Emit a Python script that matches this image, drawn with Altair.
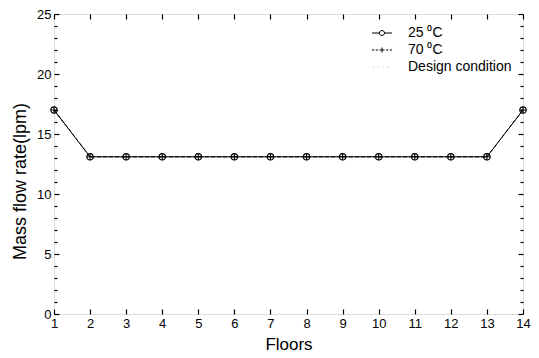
import altair as alt
import pandas as pd

# Mass flow rate per floor for the two supply temperatures and the design case
floors = list(range(1, 15))
mass_25 = [17.0, 13.1, 13.1, 13.1, 13.1, 13.1, 13.1, 13.1, 13.1, 13.1, 13.1, 13.1, 13.1, 17.0]
mass_70 = [17.0, 13.1, 13.1, 13.1, 13.1, 13.1, 13.1, 13.1, 13.1, 13.1, 13.1, 13.1, 13.1, 17.0]
mass_design = [17.0, 13.1, 13.1, 13.1, 13.1, 13.1, 13.1, 13.1, 13.1, 13.1, 13.1, 13.1, 13.1, 17.0]

series_names = ["25 \u2070C", "70 \u2070C", "Design condition"]
y_major = [0, 5, 10, 15, 20, 25]
y_minor = [v for v in range(0, 26) if v % 5 != 0]

frames = []
for name, vals in zip(series_names, [mass_25, mass_70, mass_design]):
    frames.append(pd.DataFrame({"floor": floors, "flow": vals, "series": name}))
df = pd.concat(frames, ignore_index=True)

FONT = "Liberation Sans"
W, H = 469, 300
x_scale = alt.Scale(domain=[1, 14], nice=False, zero=False)
y_scale = alt.Scale(domain=[0, 25], nice=False)


def inward(orient, size, values, **kw):
    """Axis whose ticks point into the plot: shift it inward by the tick length."""
    base = dict(orient=orient, values=values, tickSize=size, offset=-size,
                domain=False, grid=False, labels=False, title=None,
                tickColor="black", tickWidth=1.2)
    base.update(kw)
    return alt.Axis(**base)


def legend_spec():
    return alt.Legend(title=None, orient="none", legendX=321, legendY=12,
                      padding=0, labelFont=FONT, labelFontSize=14,
                      labelColor="black", labelOffset=19, rowPadding=3,
                      symbolStrokeWidth=1)


base = alt.Chart(df)
s25 = base.transform_filter(alt.datum.series == series_names[0])
s70 = base.transform_filter(alt.datum.series == series_names[1])
sdes = base.transform_filter(alt.datum.series == series_names[2])

x_main = alt.X("floor:Q", scale=x_scale, axis=inward(
    "bottom", 5, floors, labels=True, labelFont=FONT, labelFontSize=13,
    labelColor="black", labelPadding=3, labelFlush=False,
    title="Floors", titleFont=FONT, titleFontSize=17, titleFontWeight="normal",
    titleColor="black", titlePadding=6))
y_main = alt.Y("flow:Q", scale=y_scale, axis=inward(
    "left", 5, y_major, labels=True, labelFont=FONT, labelFontSize=13,
    labelColor="black", labelPadding=3, labelFlush=False,
    title="Mass flow rate(lpm)", titleFont=FONT, titleFontSize=18,
    titleFontWeight="normal", titleColor="black", titlePadding=7, titleY=167))

line25 = s25.mark_line(color="black", strokeWidth=1).encode(x=x_main, y=y_main)

pts25 = s25.mark_point(shape="circle", size=40, filled=False, color="black",
                       strokeWidth=1.1, opacity=1).encode(
    x=alt.X("floor:Q", scale=x_scale, axis=None),
    y=alt.Y("flow:Q", scale=y_scale, axis=inward("left", 3, y_minor)))

line70 = s70.mark_line(color="black", strokeWidth=1, strokeDash=[4, 2]).encode(
    x=alt.X("floor:Q", scale=x_scale, axis=inward("top", 5, floors)),
    y=alt.Y("flow:Q", scale=y_scale, axis=inward("right", 5, y_major)))

pts70 = s70.mark_point(shape="M-1,0L1,0M0,-1L0,1", size=49, filled=False,
                       color="black", strokeWidth=1.1, opacity=1).encode(
    x=alt.X("floor:Q", scale=x_scale, axis=None),
    y=alt.Y("flow:Q", scale=y_scale, axis=inward("right", 3, y_minor)))

line_des = sdes.mark_line(color="#c8c8c8", strokeWidth=1, strokeDash=[1, 3]).encode(
    x=alt.X("floor:Q", scale=x_scale, axis=None),
    y=alt.Y("flow:Q", scale=y_scale, axis=None))

# Legend symbols: line-with-marker glyphs drawn as SVG paths
legend_shapes = [
    "M-2,0L-0.5,0M0.5,0L2,0M-0.5,0A0.5,0.5,0,1,1,0.5,0A0.5,0.5,0,1,1,-0.5,0",
    "M-2,0L-1.55,0M-1.25,0L-0.8,0M-0.5,0L0.5,0M0,-0.5L0,0.5M0.8,0L1.25,0M1.55,0L2,0",
    "M-1.8,0L-1.6,0M-0.9,0L-0.7,0M0.1,0L0.3,0M1.0,0L1.2,0",
]
legend_layer = base.transform_filter(alt.datum.floor < 0).mark_point(
    filled=False, size=144, strokeWidth=1, opacity=1).encode(
    x=alt.X("floor:Q", scale=x_scale, axis=None),
    y=alt.Y("flow:Q", scale=y_scale, axis=None),
    shape=alt.Shape("series:N", scale=alt.Scale(domain=series_names, range=legend_shapes),
                    legend=legend_spec()),
    color=alt.Color("series:N", scale=alt.Scale(domain=series_names,
                                                range=["black", "black", "#b0b0b0"]),
                    legend=legend_spec()),
)

chart = alt.layer(line_des, line70, line25, pts70, pts25, legend_layer).resolve_axis(
    x="independent", y="independent"
).properties(
    width=W, height=H,
    autosize=alt.AutoSizeParams(type="none"),
    padding={"left": 54, "top": 14, "right": 16, "bottom": 44},
).configure_view(
    stroke="black", strokeWidth=1.3
).configure(background="white")

chart.save("out.html", embed_options={"renderer": "svg", "actions": False})
